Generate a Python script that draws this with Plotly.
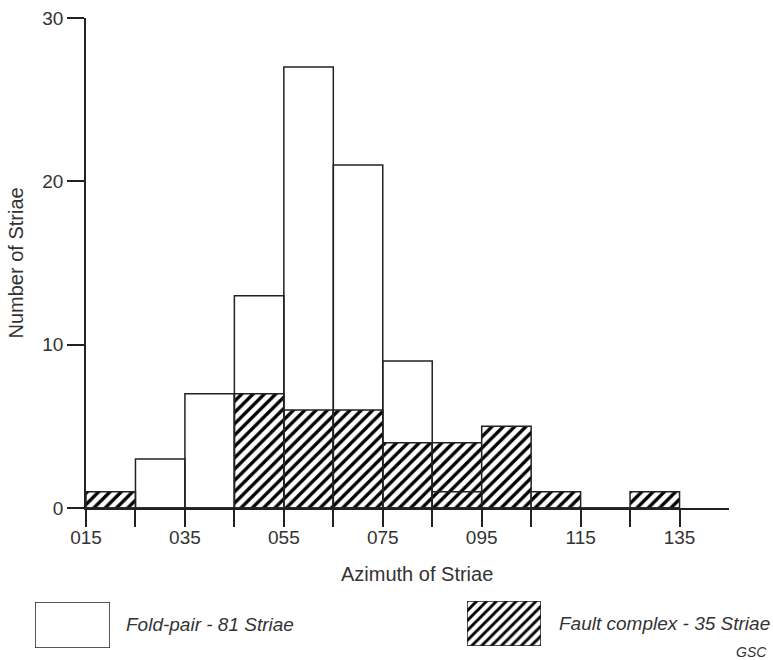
import plotly.graph_objects as go

# Data: azimuth bins (start of each 10-degree bin) and counts
bin_starts = [15, 25, 35, 45, 55, 65, 75, 85, 95, 105, 115, 125]
fold_pair = [0, 3, 7, 13, 27, 21, 9, 1, 0, 0, 0, 0]
fault_complex = [1, 0, 0, 7, 6, 6, 4, 4, 5, 1, 0, 1]
bin_width = 10

x_tick_vals = [15, 25, 35, 45, 55, 65, 75, 85, 95, 105, 115, 125, 135]
x_tick_text = ["015", "", "035", "", "055", "", "075", "", "095", "", "115", "", "135"]
y_tick_vals = [0, 10, 20, 30]

FONT = "Liberation Sans, Arial, sans-serif"
TXT = "#333333"
LINE = "#222222"
W, H = 773, 660

hatch = dict(shape="/", fgcolor="#000000", fgopacity=1, bgcolor="white", size=8, solidity=0.42)

fig = go.Figure()

# Fault complex (hatched) drawn first
fig.add_trace(go.Bar(
    x=bin_starts, y=fault_complex, width=bin_width, offset=0,
    marker=dict(color="white", pattern=hatch, line=dict(color=LINE, width=1.5)),
    xaxis="x", yaxis="y", showlegend=False, cliponaxis=False,
))
# Fold-pair (open) outlines on top
fig.add_trace(go.Bar(
    x=bin_starts, y=fold_pair, width=bin_width, offset=0,
    marker=dict(color="rgba(0,0,0,0)", line=dict(color=LINE, width=1.5)),
    xaxis="x", yaxis="y", showlegend=False, cliponaxis=False,
))

# Legend swatches (decorative)
fig.add_trace(go.Bar(
    x=[0.5], y=[1], width=1,
    marker=dict(color="white", line=dict(color=LINE, width=1.5)),
    xaxis="x2", yaxis="y2", showlegend=False, hoverinfo="skip", cliponaxis=False,
))
fig.add_trace(go.Bar(
    x=[0.5], y=[1], width=1,
    marker=dict(color="white",
                pattern=dict(shape="/", fgcolor="#000000", fgopacity=1, bgcolor="white", size=7, solidity=0.42),
                line=dict(color=LINE, width=1.5)),
    xaxis="x3", yaxis="y3", showlegend=False, hoverinfo="skip", cliponaxis=False,
))

def px_x(p):
    return p / W

def px_y(p):
    return 1 - p / H

hidden = dict(visible=False, range=[0, 1], fixedrange=True, automargin=False)

fig.update_layout(
    width=W, height=H,
    margin=dict(l=0, r=0, t=0, b=0, autoexpand=False),
    paper_bgcolor="white", plot_bgcolor="white",
    barmode="overlay",
    font=dict(family=FONT, color=TXT, size=16),
    xaxis=dict(
        domain=[px_x(86), px_x(729)], range=[15, 145],
        tickmode="array", tickvals=x_tick_vals, ticktext=x_tick_text,
        ticks="outside", ticklen=17, tickwidth=1.5, tickcolor=LINE,
        showline=True, linecolor=LINE, linewidth=1.5,
        showgrid=False, zeroline=False, automargin=False,
        tickfont=dict(size=19, color=TXT), ticklabelstandoff=-6,
        anchor="y",
    ),
    yaxis=dict(
        domain=[px_y(508), px_y(18)], range=[0, 30],
        tickmode="array", tickvals=y_tick_vals,
        ticks="outside", ticklen=17, tickwidth=1.5, tickcolor=LINE,
        showline=True, linecolor=LINE, linewidth=1.5,
        showgrid=False, zeroline=False, automargin=False,
        tickfont=dict(size=19, color=TXT),
        anchor="x",
    ),
    xaxis2=dict(domain=[px_x(35), px_x(110)], anchor="y2", **hidden),
    yaxis2=dict(domain=[px_y(648), px_y(602)], anchor="x2", **hidden),
    xaxis3=dict(domain=[px_x(467), px_x(541)], anchor="y3", **hidden),
    yaxis3=dict(domain=[px_y(646), px_y(601)], anchor="x3", **hidden),
    annotations=[
        dict(text="Azimuth of Striae", xref="paper", yref="paper",
             x=px_x(417), y=px_y(574), xanchor="center", yanchor="middle",
             showarrow=False, font=dict(size=20, color=TXT)),
        dict(text="Number of Striae", xref="paper", yref="paper",
             x=px_x(15.5), y=px_y(263), xanchor="center", yanchor="middle",
             textangle=-90, showarrow=False, font=dict(size=20, color=TXT)),
        dict(text="<i>Fold-pair - 81 Striae</i>", xref="paper", yref="paper",
             x=px_x(124), y=px_y(624), xanchor="left", yanchor="middle",
             showarrow=False, font=dict(size=19, color=TXT)),
        dict(text="<i>Fault complex - 35 Striae</i>", xref="paper", yref="paper",
             x=px_x(557), y=px_y(623), xanchor="left", yanchor="middle",
             showarrow=False, font=dict(size=19, color=TXT)),
        dict(text="<i>GSC</i>", xref="paper", yref="paper",
             x=px_x(769), y=px_y(652), xanchor="right", yanchor="middle",
             showarrow=False, font=dict(size=14, color=TXT)),
    ],
)

fig.write_html("out.html", config={"displayModeBar": False},
               post_script="document.body.style.margin='0px';")
